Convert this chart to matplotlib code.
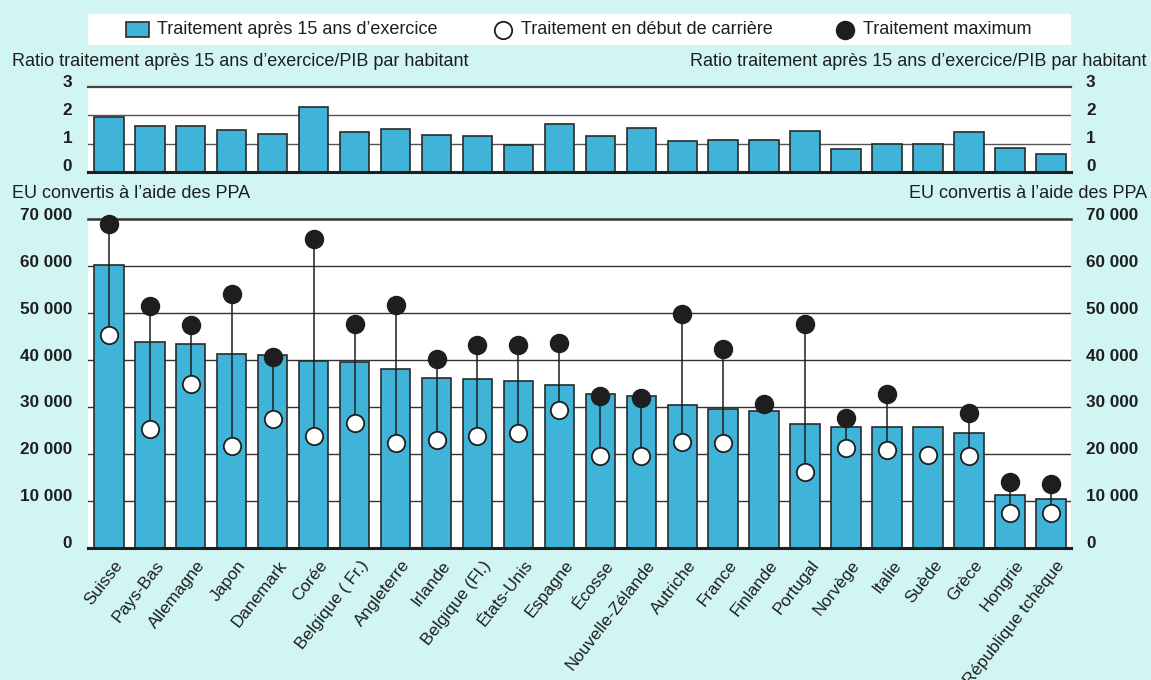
import numpy as np
import matplotlib
matplotlib.use("Agg")
import matplotlib.pyplot as plt
from matplotlib import font_manager
from matplotlib.patches import Rectangle
from matplotlib.lines import Line2D
from matplotlib.transforms import ScaledTranslation, blended_transform_factory

# ---- data -------------------------------------------------------------
countries = ["Suisse", "Pays-Bas", "Allemagne", "Japon", "Danemark", "Corée",
             "Belgique ( Fr.)", "Angleterre", "Irlande", "Belgique (Fl.)",
             "États-Unis", "Espagne", "Écosse", "Nouvelle-Zélande", "Autriche",
             "France", "Finlande", "Portugal", "Norvège", "Italie", "Suède",
             "Grèce", "Hongrie", "République tchèque"]

ratio_gdp = [1.95, 1.61, 1.61, 1.48, 1.34, 2.29, 1.41, 1.51, 1.31, 1.28, 0.96, 1.68,
             1.28, 1.55, 1.10, 1.12, 1.12, 1.46, 0.80, 0.99, 0.99, 1.42, 0.85, 0.63]

salary_15y = [60300, 43800, 43400, 41300, 41000, 39900, 39600, 38000, 36200, 36000,
              35500, 34600, 32800, 32300, 30500, 29600, 29200, 26300, 25800, 25800,
              25800, 24400, 11200, 10400]

salary_start = [45300, 25400, 34900, 21600, 27500, 23900, 26500, 22300, 23000, 23800,
                24500, 29300, 19500, 19600, 22600, 22300, np.nan, 16100, 21300, 20800,
                19800, 19600, 7400, 7500]

salary_max = [68900, 51600, 47500, 54000, 40600, 65800, 47600, 51700, 40300, 43100,
              43100, 43700, 32300, 31900, 49800, 42400, 30600, 47600, 27600, 32700,
              np.nan, 28800, 13900, 13500]

ratio_ticks = [0, 1, 2, 3]
ratio_ticklabels = ["0", "1", "2", "3"]
ppp_ticks = [0, 10000, 20000, 30000, 40000, 50000, 60000, 70000]
ppp_ticklabels = ["0", "10 000", "20 000", "30 000", "40 000", "50 000", "60 000", "70 000"]

ratio_title = "Ratio traitement après 15 ans d’exercice/PIB par habitant"
ppp_title = "EU convertis à l’aide des PPA"
legend_labels = ["Traitement après 15 ans d’exercice",
                 "Traitement en début de carrière",
                 "Traitement maximum"]

# ---- style ------------------------------------------------------------
W, H, DPI = 1151, 680, 100
BG = "#d0f5f3"
BAR = "#40b4d8"
EDGE = "#2a2a2a"
INK = "#1e1e1e"
TEXT_FONT = ["Liberation Sans", "DejaVu Sans"]

# bold condensed face for the axis numbers, when one is installed
installed = {f.name for f in font_manager.fontManager.ttflist}
if "Liberation Sans Narrow" in installed:
    TICK_FONT, TICK_SIZE = ["Liberation Sans Narrow", "Liberation Sans"], 14
else:
    TICK_FONT, TICK_SIZE = ["Liberation Sans", "DejaVu Sans"], 12.3

plt.rcParams["font.family"] = TEXT_FONT

fig = plt.figure(figsize=(W / DPI, H / DPI), dpi=DPI, facecolor=BG)


def fx(px):
    return px / W


def fy(py):
    return 1 - py / H


def offset(dx_px, dy_px):
    return ScaledTranslation(dx_px / DPI, dy_px / DPI, fig.dpi_scale_trans)


ax_left, ax_right = 88, 1071
x = np.arange(len(countries))
bar_w = 0.72

# ---- top panel: ratio to GDP per capita -------------------------------
ax_top = fig.add_axes([fx(ax_left), fy(171.7), fx(ax_right - ax_left), (171.7 - 87.3) / H])
# ---- bottom panel: PPP-converted salaries -----------------------------
ax_bot = fig.add_axes([fx(ax_left), fy(547.7), fx(ax_right - ax_left), (547.7 - 219.3) / H])

for ax in (ax_top, ax_bot):
    ax.set_facecolor("white")
    ax.set_xlim(-0.508, len(countries) - 0.51)
    ax.tick_params(length=0, labelleft=False, labelbottom=False)
    ax.spines["left"].set_visible(False)
    ax.spines["right"].set_visible(False)
    ax.set_axisbelow(True)
    ax.set_xticks([])

ax_top.bar(x, ratio_gdp, width=bar_w, color=BAR, edgecolor=EDGE, linewidth=1.2, zorder=2)
ax_top.set_ylim(0, 3)
ax_top.set_yticks([1, 2])
ax_top.yaxis.grid(True, color="#555555", linewidth=1.0)
ax_top.spines["top"].set_color("#444444")
ax_top.spines["top"].set_linewidth(1.6)
ax_top.spines["bottom"].set_color(INK)
ax_top.spines["bottom"].set_linewidth(2.2)

ax_bot.bar(x, salary_15y, width=bar_w, color=BAR, edgecolor=EDGE, linewidth=1.2, zorder=2)
ax_bot.set_ylim(0, 70000)
ax_bot.set_yticks(ppp_ticks[1:-1])
ax_bot.yaxis.grid(True, color="#333333", linewidth=1.0)
ax_bot.spines["top"].set_color("#333333")
ax_bot.spines["top"].set_linewidth(1.8)
ax_bot.spines["bottom"].set_color(INK)
ax_bot.spines["bottom"].set_linewidth(2.2)

# stems joining starting and maximum salaries
start = np.array(salary_start, dtype=float)
top = np.array(salary_max, dtype=float)
both = ~np.isnan(start) & ~np.isnan(top)
ax_bot.vlines(x[both], start[both], top[both], color=INK, linewidth=1.1, zorder=3)
ax_bot.plot(x, top, linestyle="none", marker="o", markersize=13,
            markerfacecolor=INK, markeredgecolor=INK, zorder=4, clip_on=False)
ax_bot.plot(x, start, linestyle="none", marker="o", markersize=12.5,
            markerfacecolor="white", markeredgecolor=INK, markeredgewidth=1.3,
            zorder=5, clip_on=False)

# ---- y tick labels on both sides --------------------------------------
def side_labels(ax, ticks, labels, dy):
    tr = blended_transform_factory(ax.transAxes, ax.transData)
    for v, lab in zip(ticks, labels):
        ax.text(0, v, lab, transform=tr + offset(-16, dy), ha="right", va="center",
                fontsize=TICK_SIZE, fontweight="bold", family=TICK_FONT, color=INK)
        ax.text(1, v, lab, transform=tr + offset(15, dy), ha="left", va="center",
                fontsize=TICK_SIZE, fontweight="bold", family=TICK_FONT, color=INK)


side_labels(ax_top, ratio_ticks, ratio_ticklabels, 5)
side_labels(ax_bot, ppp_ticks, ppp_ticklabels, 4)

# ---- country labels ---------------------------------------------------
tr_x = blended_transform_factory(ax_bot.transData, ax_bot.transAxes)
for xi, name in zip(x, countries):
    ax_bot.text(xi, 0, name, transform=tr_x + offset(5, -10), rotation=52,
                rotation_mode="anchor", ha="right", va="top", fontsize=12.3, color=INK)

# ---- panel titles -----------------------------------------------------
for ypx, title in ((62, ratio_title), (193, ppp_title)):
    fig.text(fx(12), fy(ypx), title, ha="left", va="center", fontsize=13, color=INK)
    fig.text(fx(1147), fy(ypx), title, ha="right", va="center", fontsize=13, color=INK)

# ---- legend band ------------------------------------------------------
fig.add_artist(Rectangle((fx(ax_left), fy(45)), fx(ax_right - ax_left), 31 / H,
                         transform=fig.transFigure, facecolor="white",
                         edgecolor="none", zorder=1))
fig.add_artist(Rectangle((fx(126), fy(37)), fx(23), 14.5 / H,
                         transform=fig.transFigure, facecolor=BAR,
                         edgecolor=EDGE, linewidth=1.2, zorder=2))
fig.add_artist(Line2D([fx(503)], [fy(30)], transform=fig.transFigure, marker="o",
                      markersize=12.5, markerfacecolor="white", markeredgecolor=INK,
                      markeredgewidth=1.3, linestyle="none", zorder=2))
fig.add_artist(Line2D([fx(845)], [fy(30)], transform=fig.transFigure, marker="o",
                      markersize=13, markerfacecolor=INK, markeredgecolor=INK,
                      linestyle="none", zorder=2))
for xpx, lab in ((157, legend_labels[0]), (521, legend_labels[1]), (863, legend_labels[2])):
    fig.text(fx(xpx), fy(30), lab, ha="left", va="center", fontsize=13, color=INK, zorder=3)

fig.savefig("out.png", dpi=DPI, facecolor=BG)
